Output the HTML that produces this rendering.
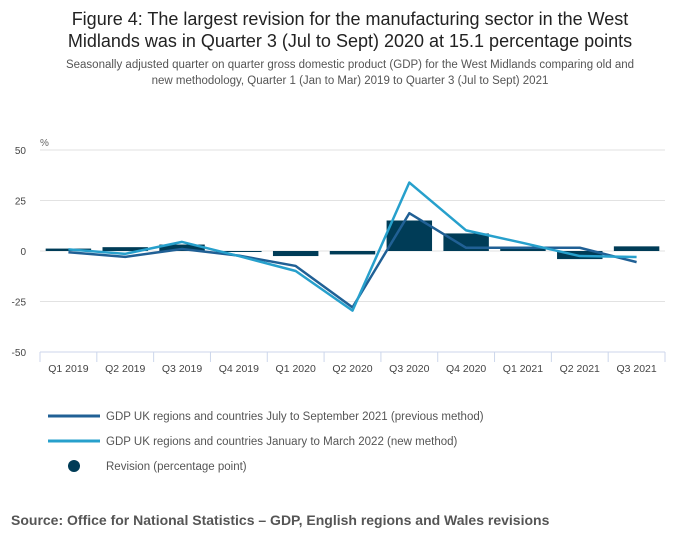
<!DOCTYPE html>
<html><head><meta charset="utf-8"><style>
body{margin:0;background:#fff;font-family:"Liberation Sans",sans-serif;}
#wrap{position:relative;width:700px;height:549px;overflow:hidden;}
.t{position:absolute;left:0;width:700px;text-align:center;color:#222;}
</style></head><body>
<div id="wrap">
<div class="t" style="top:8px;font-size:18px;line-height:22px;color:#222">Figure 4: The largest revision for the manufacturing sector in the West<br>Midlands was in Quarter 3 (Jul to Sept) 2020 at 15.1 percentage points</div>
<div class="t" style="top:57px;font-size:11.5px;line-height:16px;color:#555">Seasonally adjusted quarter on quarter gross domestic product (GDP) for the West Midlands comparing old and<br>new methodology, Quarter 1 (Jan to Mar) 2019 to Quarter 3 (Jul to Sept) 2021</div>
<svg id="chart" width="700" height="549" style="position:absolute;left:0;top:0"></svg>
<div style="position:absolute;left:11px;top:512px;font-size:14px;font-weight:bold;color:#555">Source: Office for National Statistics – GDP, English regions and Wales revisions</div>
</div>
<script>
const categories=["Q1 2019","Q2 2019","Q3 2019","Q4 2019","Q1 2020","Q2 2020","Q3 2020","Q4 2020","Q1 2021","Q2 2021","Q3 2021"];
const previousMethod=[-0.6,-2.9,1.0,-2.3,-7.4,-27.9,18.7,1.6,1.6,1.6,-5.5];
const newMethod=[0.8,-1.4,4.5,-2.5,-9.9,-29.5,33.9,10.2,4.0,-2.5,-3.0];
const revision=[1.2,1.9,3.2,-0.5,-2.5,-1.7,15.1,8.7,2.2,-4.0,2.3];
const yTicks=[50,25,0,-25,-50];
const svg=document.getElementById('chart');
const NS='http://www.w3.org/2000/svg';
const L=40,R=665,T=150,B=352;
const band=(R-L)/categories.length;
const x=i=>L+band*(i+0.5);
const y=v=>T+(50-v)/100*(B-T);
function mk(t,a){const e=document.createElementNS(NS,t);for(const k in a)e.setAttribute(k,a[k]);svg.appendChild(e);return e;}
yTicks.forEach(v=>{
  if(v!==-50){const g=mk('line',{x1:L,x2:R,y1:y(v),y2:y(v),stroke:'#e2e2e2','stroke-width':1});
  
  }
  const t=mk('text',{x:26,y:y(v)+4,'text-anchor':'end','font-size':10,fill:'#444','font-family':'Liberation Sans, sans-serif'});
  t.textContent=v;
  
  
});
const u=mk('text',{x:40,y:146,'font-size':10,fill:'#666','font-family':'Liberation Sans, sans-serif'});u.textContent='%';


const ax=mk('line',{x1:L,x2:R,y1:B,y2:B,stroke:'#ccd6eb'});


for(let i=0;i<=categories.length;i++){const tk=mk('line',{x1:L+band*i,x2:L+band*i,y1:B,y2:B+10,stroke:'#ccd6eb'});

}
categories.forEach((c,i)=>{
  const t=mk('text',{x:x(i),y:B+20,'text-anchor':'middle','font-size':10.5,fill:'#444','font-family':'Liberation Sans, sans-serif'});
  t.textContent=c;
  
  
});
revision.forEach((v,i)=>{
  const w=band*0.8;
  const b=mk('rect',{x:x(i)-w/2,y:Math.min(y(v),y(0)),width:w,height:Math.abs(y(v)-y(0)),fill:'#003c57'});
  
  
});
function line(d,col,name){
  const p=mk('polyline',{points:d.map((v,i)=>x(i)+','+y(v)).join(' '),fill:'none',stroke:col,'stroke-width':2.5,'stroke-linejoin':'round'});
  
  
}
line(previousMethod,'#206095','previous-method-line');
line(newMethod,'#27a0cc','new-method-line');
const lg=[['#206095','GDP UK regions and countries July to September 2021 (previous method)',416],['#27a0cc','GDP UK regions and countries January to March 2022 (new method)',441]];
lg.forEach(([c,s,yy])=>{
  const l=mk('line',{x1:48,x2:100,y1:yy,y2:yy,stroke:c,'stroke-width':3});
  
  
  const t=mk('text',{x:106,y:yy+4,'font-size':11.5,fill:'#555','font-family':'Liberation Sans, sans-serif'});t.textContent=s;
  
  
});
const d=mk('circle',{cx:74,cy:466,r:6,fill:'#003c57'});


const t3=mk('text',{x:106,y:470,'font-size':11.5,fill:'#555','font-family':'Liberation Sans, sans-serif'});t3.textContent='Revision (percentage point)';


</script>
</body></html>
